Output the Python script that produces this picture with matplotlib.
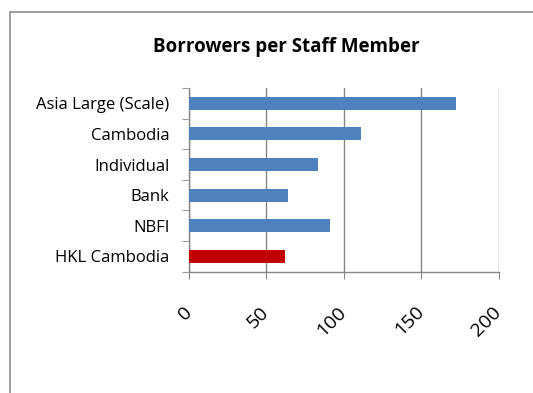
#!/usr/bin/env python3
"""Borrowers per staff member, horizontal bar chart."""

import matplotlib

matplotlib.use("Agg")
import matplotlib.pyplot as plt
from matplotlib.patches import Rectangle
from matplotlib.ticker import FixedLocator

# ---------------------------------------------------------------------------
# Data
# ---------------------------------------------------------------------------

categories = ["Asia Large (Scale)", "Cambodia", "Individual", "Bank", "NBFI", "HKL Cambodia"]
values = [172.5, 111, 83.5, 64, 91, 62]
highlight = "HKL Cambodia"
x_ticks = [0, 50, 100, 150, 200]

BLUE = "#4F81BD"
RED = "#C00000"
GRID = "#868686"

plt.rcParams["font.family"] = ["Open Sans", "DejaVu Sans"]

W, H = 533, 393
fig = plt.figure(figsize=(W / 100, H / 100), dpi=100)

# chart frame (cut off at right and bottom, like the screenshot)
fig.patches.append(
    Rectangle((10 / W, -0.1), 1.0, (H - 12) / H + 0.1, transform=fig.transFigure,
              fill=False, edgecolor="#8C8C8C", linewidth=1.2)
)

ax = fig.add_axes([189 / W, 1 - 271.7 / H, 309.5 / W, 183.7 / H])

ypos = list(range(len(categories)))
colors = [RED if c == highlight else BLUE for c in categories]
ax.barh(ypos, values, height=0.42, color=colors, zorder=3)

ax.set_xlim(0, 200)
ax.set_ylim(len(categories) - 0.5, -0.5)

ax.set_xticks(x_ticks)
ax.set_xticklabels([str(t) for t in x_ticks], rotation=45, ha="right", va="center",
                   rotation_mode="anchor", fontsize=14)
ax.tick_params(axis="x", direction="out", length=5, color=GRID, pad=22)

ax.set_yticks(ypos)
ax.set_yticklabels(categories, fontsize=12)
ax.tick_params(axis="y", which="major", length=0, pad=14)
ax.yaxis.set_minor_locator(FixedLocator([i - 0.5 for i in range(len(categories) + 1)]))
ax.tick_params(axis="y", which="minor", direction="out", length=5, color=GRID)

ax.grid(axis="x", color=GRID, linewidth=1.0, zorder=0)
for side in ("top", "right"):
    ax.spines[side].set_visible(False)
for side in ("left", "bottom"):
    ax.spines[side].set_color(GRID)
    ax.spines[side].set_linewidth(1.0)

fig.text(286 / W, 1 - 47 / H, "Borrowers per Staff Member", ha="center", va="center",
         fontsize=13.5, fontweight="bold")

fig.savefig("out.png", dpi=100)
